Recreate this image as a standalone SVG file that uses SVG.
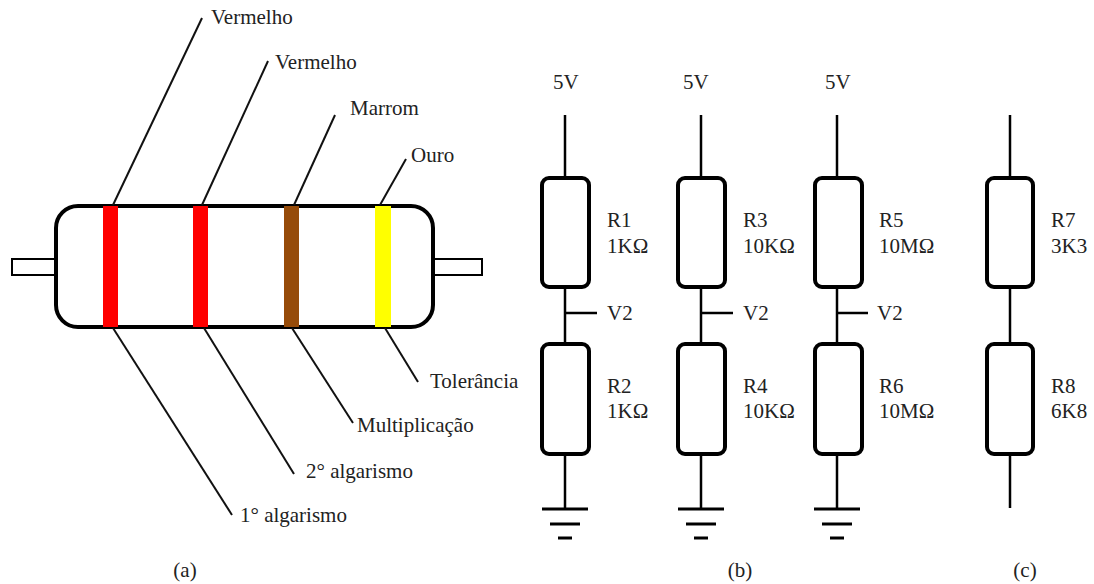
<svg xmlns="http://www.w3.org/2000/svg" width="1094" height="584" viewBox="0 0 1094 584">
  <style>
    text { font-family: 'Liberation Serif', 'DejaVu Serif', serif; font-size: 21px; fill: #222; }
    .body { fill: #fff; stroke: #000; stroke-width: 4; }
    .lead { fill: #fff; stroke: #000; stroke-width: 2; }
    .leader { stroke: #111; stroke-width: 2; fill: none; }
    .wire { stroke: #000; stroke-width: 2.5; fill: none; }
    .res { fill: #fff; stroke: #000; stroke-width: 4; }
    .gnd { stroke: #000; stroke-width: 3; fill: none; }
  </style>
  <defs>
    <g id="ground">
      <line class="gnd" x1="-23" y1="0" x2="23" y2="0"/>
      <line class="gnd" x1="-15" y1="15" x2="15" y2="15"/>
      <line class="gnd" x1="-7" y1="29" x2="7" y2="29"/>
    </g>
  </defs>

  <!-- (a) colour-coded resistor -->
  <g id="resistor-a">
    <rect class="lead" x="12" y="259" width="46" height="16"/>
    <rect class="lead" x="432" y="259" width="50" height="16"/>
    <rect class="body" x="56" y="206" width="377" height="121" rx="22" ry="22"/>
    <rect x="103" y="206" width="15" height="121" fill="#ff0000"/>
    <rect x="193" y="206" width="15" height="121" fill="#ff0000"/>
    <rect x="284" y="206" width="15" height="121" fill="#964B09"/>
    <rect x="375" y="206" width="16" height="121" fill="#ffff00"/>
  </g>

  <g id="leaders-a">
    <line class="leader" x1="113" y1="205" x2="202" y2="18"/>
    <line class="leader" x1="202" y1="205" x2="268" y2="61"/>
    <line class="leader" x1="294" y1="205" x2="335" y2="115"/>
    <line class="leader" x1="380" y1="205" x2="406" y2="159"/>
    <line class="leader" x1="113" y1="328" x2="232" y2="515"/>
    <line class="leader" x1="204" y1="328" x2="294" y2="474"/>
    <line class="leader" x1="292" y1="328" x2="353" y2="423"/>
    <line class="leader" x1="385" y1="328" x2="418" y2="382"/>
  </g>

  <g id="labels-a">
    <text x="211" y="24">Vermelho</text>
    <text x="275" y="69">Vermelho</text>
    <text x="350" y="115">Marrom</text>
    <text x="411" y="162">Ouro</text>
    <text x="430" y="388">Tolerância</text>
    <text x="357" y="432">Multiplicação</text>
    <text x="306" y="478">2° algarismo</text>
    <text x="240" y="522">1° algarismo</text>
    <text x="185" y="577" text-anchor="middle">(a)</text>
  </g>

  <!-- (b) voltage dividers -->
  <g id="divider-1">
    <text x="553" y="89">5V</text>
    <line class="wire" x1="565" y1="115" x2="565" y2="178"/>
    <rect class="res" x="542" y="178" width="47" height="109" rx="7"/>
    <line class="wire" x1="565" y1="287" x2="565" y2="344"/>
    <line class="wire" x1="565" y1="313" x2="597" y2="313"/>
    <text x="607" y="320">V2</text>
    <rect class="res" x="542" y="344" width="47" height="110" rx="7"/>
    <line class="wire" x1="565" y1="454" x2="565" y2="509"/>
    <use href="#ground" x="565" y="509"/>
    <text x="607" y="227">R1</text>
    <text x="607" y="253">1KΩ</text>
    <text x="607" y="393">R2</text>
    <text x="607" y="418">1KΩ</text>
  </g>

  <g id="divider-2">
    <text x="683" y="89">5V</text>
    <line class="wire" x1="701" y1="115" x2="701" y2="178"/>
    <rect class="res" x="678" y="178" width="47" height="109" rx="7"/>
    <line class="wire" x1="701" y1="287" x2="701" y2="344"/>
    <line class="wire" x1="701" y1="313" x2="733" y2="313"/>
    <text x="743" y="320">V2</text>
    <rect class="res" x="678" y="344" width="47" height="110" rx="7"/>
    <line class="wire" x1="701" y1="454" x2="701" y2="509"/>
    <use href="#ground" x="701" y="509"/>
    <text x="743" y="227">R3</text>
    <text x="743" y="253">10KΩ</text>
    <text x="743" y="393">R4</text>
    <text x="743" y="418">10KΩ</text>
  </g>

  <g id="divider-3">
    <text x="825" y="89">5V</text>
    <line class="wire" x1="837" y1="115" x2="837" y2="178"/>
    <rect class="res" x="815" y="178" width="47" height="109" rx="7"/>
    <line class="wire" x1="837" y1="287" x2="837" y2="344"/>
    <line class="wire" x1="837" y1="313" x2="868" y2="313"/>
    <text x="877" y="320">V2</text>
    <rect class="res" x="815" y="344" width="47" height="110" rx="7"/>
    <line class="wire" x1="837" y1="454" x2="837" y2="509"/>
    <use href="#ground" x="837" y="509"/>
    <text x="879" y="227">R5</text>
    <text x="879" y="253">10MΩ</text>
    <text x="879" y="393">R6</text>
    <text x="879" y="418">10MΩ</text>
  </g>

  <text x="740" y="577" text-anchor="middle">(b)</text>

  <!-- (c) series pair -->
  <g id="series-c">
    <line class="wire" x1="1010" y1="115" x2="1010" y2="178"/>
    <rect class="res" x="987" y="178" width="46" height="109" rx="7"/>
    <line class="wire" x1="1010" y1="287" x2="1010" y2="344"/>
    <rect class="res" x="987" y="344" width="46" height="110" rx="7"/>
    <line class="wire" x1="1010" y1="454" x2="1010" y2="508"/>
    <text x="1051" y="227">R7</text>
    <text x="1051" y="253">3K3</text>
    <text x="1051" y="393">R8</text>
    <text x="1051" y="418">6K8</text>
    <text x="1025" y="577" text-anchor="middle">(c)</text>
  </g>
</svg>
